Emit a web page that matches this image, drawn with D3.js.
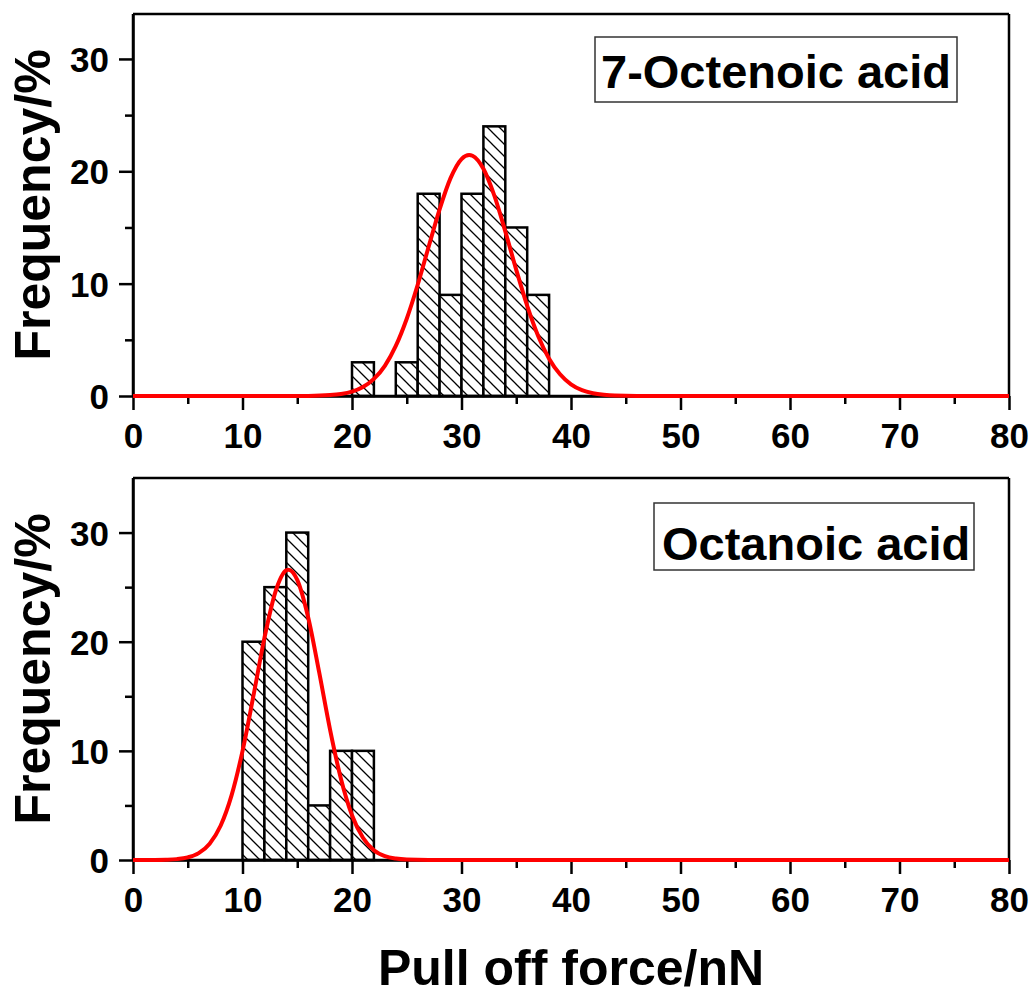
<!DOCTYPE html>
<html>
<head>
<meta charset="utf-8">
<script src="https://cdn.jsdelivr.net/npm/d3@7"></script>
<style>
  html, body { margin: 0; padding: 0; background: #fff; }
  svg { display: block; }
  text { font-family: "Liberation Sans", Arial, sans-serif; font-weight: bold; fill: #000; }
</style>
</head>
<body>
<svg id="chart" width="1034" height="996"></svg>
<script>
// ---------- data ----------
const binWidth = 2;
const octenoicBins = [20, 22, 24, 26, 28, 30, 32, 34, 36];
const octenoicFreq = [3, 0, 3, 18, 9, 18, 24, 15, 9];
const octanoicBins = [10, 12, 14, 16, 18, 20];
const octanoicFreq = [20, 25, 30, 5, 10, 10];

// fitted curves
const octenoicCurveX = [0, 14, 16, 18, 19, 20, 21, 22, 23, 24, 25, 26, 27, 28, 29, 30, 30.7, 31, 32, 33, 34, 35, 36, 37, 38, 39, 40, 41, 42, 43, 44, 46, 80];
const octenoicCurveY = [0, 0.001, 0.011, 0.08, 0.18, 0.39, 0.80, 1.52, 2.69, 4.46, 6.88, 9.90, 13.29, 16.62, 19.39, 21.09, 21.45, 21.38, 20.22, 17.83, 14.65, 11.23, 8.03, 5.35, 3.32, 1.93, 1.04, 0.52, 0.25, 0.11, 0.04, 0.006, 0];
const octanoicCurveX = [0, 2, 3, 4, 5, 6, 7, 8, 9, 10, 11, 12, 13, 14, 14.2, 15, 16, 17, 18, 19, 20, 21, 22, 23, 24, 25, 27, 80];
const octanoicCurveY = [0, 0.007, 0.025, 0.08, 0.24, 0.63, 1.50, 3.14, 5.92, 9.98, 15.05, 20.33, 24.55, 26.54, 26.6, 25.67, 22.22, 17.21, 11.93, 7.40, 4.10, 2.04, 0.90, 0.36, 0.13, 0.04, 0.003, 0];

const xTicks = [0, 10, 20, 30, 40, 50, 60, 70, 80];
const xMinorTicks = [5, 15, 25, 35, 45, 55, 65, 75];
const yTicks = [0, 10, 20, 30];
const yMinorTicks = [5, 15, 25];

const panels = [
  { label: "7-Octenoic acid", bins: octenoicBins, freq: octenoicFreq, cx: octenoicCurveX, cy: octenoicCurveY, yMax: 34 },
  { label: "Octanoic acid", bins: octanoicBins, freq: octanoicFreq, cx: octanoicCurveX, cy: octanoicCurveY, yMax: 35 }
];

const yTitle = "Frequency/%";
const xTitle = "Pull off force/nN";

// ---------- layout ----------
const svg = d3.select("#chart");
const left = 133, right = 1009;
const frames = [ { top: 14, bottom: 396, box: [595, 37, 957, 102], textX: 601, textY: 88 },
                 { top: 478, bottom: 860, box: [654, 503, 974, 570], textX: 662, textY: 560 } ];

const defs = svg.append("defs");
const pat = defs.append("pattern")
  .attr("id", "hatch").attr("patternUnits", "userSpaceOnUse")
  .attr("width", 12).attr("height", 12);
pat.append("rect").attr("width", 12).attr("height", 12).attr("fill", "#fff");
pat.append("path").attr("d", "M-3,-3 L15,15 M-3,9 L3,15 M9,-3 L15,3")
  .attr("stroke", "#000").attr("stroke-width", 1.3);

const x = d3.scaleLinear().domain([0, 80]).range([left, right]);

panels.forEach((p, i) => {
  const f = frames[i];
  const y = d3.scaleLinear().domain([0, p.yMax]).range([f.bottom, f.top]);
  const g = svg.append("g");

  // bars
  g.selectAll("rect.bar").data(p.bins.map((b, k) => ({ b, v: p.freq[k] })).filter(d => d.v > 0))
    .enter().append("rect").attr("class", "bar")
    .attr("x", d => x(d.b)).attr("width", d => x(d.b + binWidth) - x(d.b))
    .attr("y", d => y(d.v)).attr("height", d => y(0) - y(d.v))
    .attr("fill", "url(#hatch)").attr("stroke", "#000").attr("stroke-width", 2.5);

  // frame (top & right lines)
  g.append("line").attr("x1", left).attr("x2", right).attr("y1", f.top).attr("y2", f.top)
    .attr("stroke", "#000").attr("stroke-width", 2.5);
  g.append("line").attr("x1", right).attr("x2", right).attr("y1", f.top).attr("y2", f.bottom)
    .attr("stroke", "#000").attr("stroke-width", 2.5);

  // x axis
  const xAxis = d3.axisBottom(x).tickValues(xTicks).tickSize(14).tickSizeOuter(0).tickPadding(6);
  const xa = g.append("g").attr("transform", `translate(0,${f.bottom})`).call(xAxis);
  const xMinor = d3.axisBottom(x).tickValues(xMinorTicks).tickSize(8).tickSizeOuter(0).tickFormat("");
  const xm = g.append("g").attr("transform", `translate(0,${f.bottom})`).call(xMinor);
  // y axis
  const yAxis = d3.axisLeft(y).tickValues(yTicks).tickSize(14).tickSizeOuter(0).tickPadding(10);
  const ya = g.append("g").attr("transform", `translate(${left},0)`).call(yAxis);
  const yMinor = d3.axisLeft(y).tickValues(yMinorTicks).tickSize(8).tickSizeOuter(0).tickFormat("");
  const ym = g.append("g").attr("transform", `translate(${left},0)`).call(yMinor);
  [xa, xm, ya, ym].forEach(a => {
    a.selectAll("path.domain").attr("stroke", "#000").attr("stroke-width", 2.5);
    a.selectAll(".tick line").attr("stroke", "#000").attr("stroke-width", 2.5);
    a.selectAll(".tick text").style("font-family", '"Liberation Sans", Arial, sans-serif')
      .style("font-weight", "bold").style("font-size", "35px").attr("fill", "#000");
  });
  xa.selectAll(".tick text").attr("dy", null).attr("y", 52).attr("dominant-baseline", "alphabetic");
  ya.selectAll(".tick text").attr("dy", "0.36em");
  // extend domain to meet frame
  xa.select("path.domain").attr("d", `M${left},0H${right}`);
  ya.select("path.domain").attr("d", `M0,${f.bottom}V${f.top}`);

  // curve
  const line = d3.line().x(d => x(d[0])).y(d => y(d[1])).curve(d3.curveMonotoneX);
  g.append("path").datum(p.cx.map((v, k) => [v, p.cy[k]]))
    .attr("d", line).attr("fill", "none").attr("stroke", "#ff0000").attr("stroke-width", 4)
    .attr("stroke-linejoin", "round");

  // legend box
  const [bx1, by1, bx2, by2] = f.box;
  g.append("rect").attr("x", bx1).attr("y", by1).attr("width", bx2 - bx1).attr("height", by2 - by1)
    .attr("fill", "#fff").attr("stroke", "#333").attr("stroke-width", 1.5);
  g.append("text").attr("x", f.textX).attr("y", f.textY).style("font-size", "47px").text(p.label);

  // y title
  g.append("text")
    .attr("transform", `translate(50,${(f.top + f.bottom) / 2}) rotate(-90)`)
    .attr("text-anchor", "middle").style("font-size", "50px").text(yTitle);
});

svg.append("text").attr("x", (left + right) / 2).attr("y", 985)
  .attr("text-anchor", "middle").style("font-size", "50px").text(xTitle);
</script>
</body>
</html>
